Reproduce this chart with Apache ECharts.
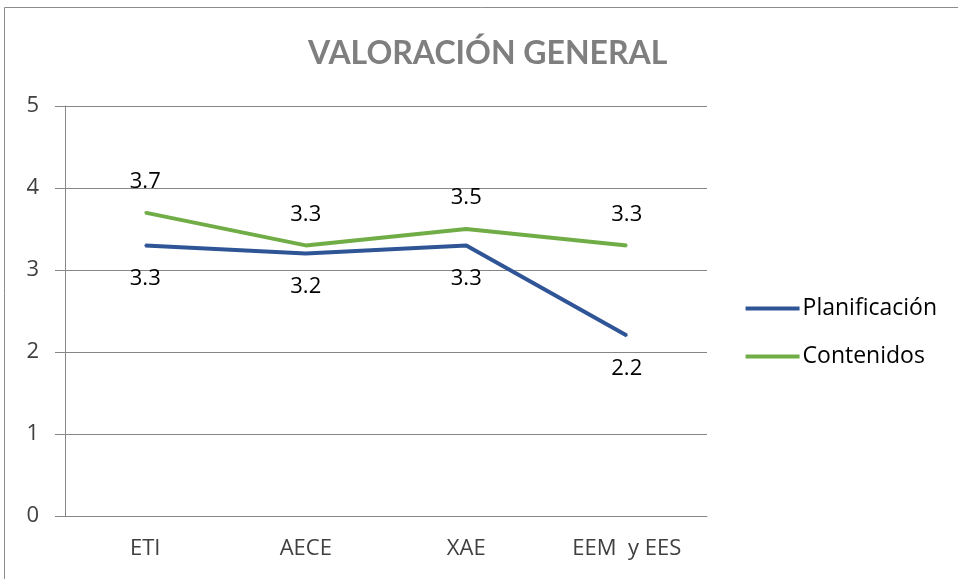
<!DOCTYPE html>
<html><head><meta charset="utf-8">
<script src="https://cdn.jsdelivr.net/npm/echarts@6/dist/echarts.min.js"></script>
<style>html,body{margin:0;padding:0;background:#fff}#c{width:958px;height:579px}</style>
</head><body><div id="c"></div>
<script>
const categories = ['ETI', 'AECE', 'XAE', 'EEM  y EES'];
const planificacion = [3.3, 3.2, 3.3, 2.2];
const contenidos = [3.7, 3.3, 3.5, 3.3];
const yTicks = [0, 1, 2, 3, 4, 5];

const chart = echarts.init(document.getElementById('c'), null, {renderer: 'canvas'});
const font = '"Open Sans", sans-serif';
chart.setOption({
  animation: false,
  backgroundColor: '#fff',
  graphic: [{type: 'rect', shape: {x: 4.5, y: 7.5, width: 1200, height: 1200}, style: {fill: 'none', stroke: '#8c8c8c', lineWidth: 1}}],
  title: {text: 'VALORACIÓN GENERAL', left: 303, top: 33, textStyle: {fontFamily: 'Lato, sans-serif', fontWeight: 'bold', fontSize: 32, color: '#7f7f7f'}},
  grid: {left: 65, right: 251, top: 106, bottom: 63},
  legend: {orient: 'vertical', right: 16, top: 292, itemWidth: 54, itemHeight: 4, itemGap: 25, icon: 'rect',
    textStyle: {fontFamily: font, fontSize: 23, color: '#000', padding: [0, 0, 0, -2]},
    data: ['Planificación', 'Contenidos']},
  xAxis: {type: 'category', data: categories, boundaryGap: true,
    axisLine: {lineStyle: {color: '#868686', width: 1}}, axisTick: {show: false},
    axisLabel: {fontFamily: font, fontSize: 22, color: '#404040', margin: 22}},
  yAxis: {type: 'value', min: yTicks[0], max: yTicks[yTicks.length-1], interval: 1,
    axisLine: {show: true, lineStyle: {color: '#868686'}},
    axisTick: {show: true, length: 10, lineStyle: {color: '#868686'}},
    splitLine: {lineStyle: {color: '#868686', width: 1}},
    axisLabel: {fontFamily: font, fontSize: 22, color: '#404040', margin: 26}},
  series: [
    {name: 'Planificación', type: 'line', data: planificacion, symbol: 'circle', symbolSize: 2, color: '#2f5597',
     lineStyle: {width: 4, color: '#2f5597'},
     label: {show: true, position: 'bottom', distance: 21, fontFamily: font, fontSize: 22, color: '#000'}},
    {name: 'Contenidos', type: 'line', data: contenidos, symbol: 'circle', symbolSize: 2, color: '#70ad47',
     lineStyle: {width: 4, color: '#70ad47'},
     label: {show: true, position: 'top', distance: 19, fontFamily: font, fontSize: 22, color: '#000'}}
  ]
});
</script></body></html>
